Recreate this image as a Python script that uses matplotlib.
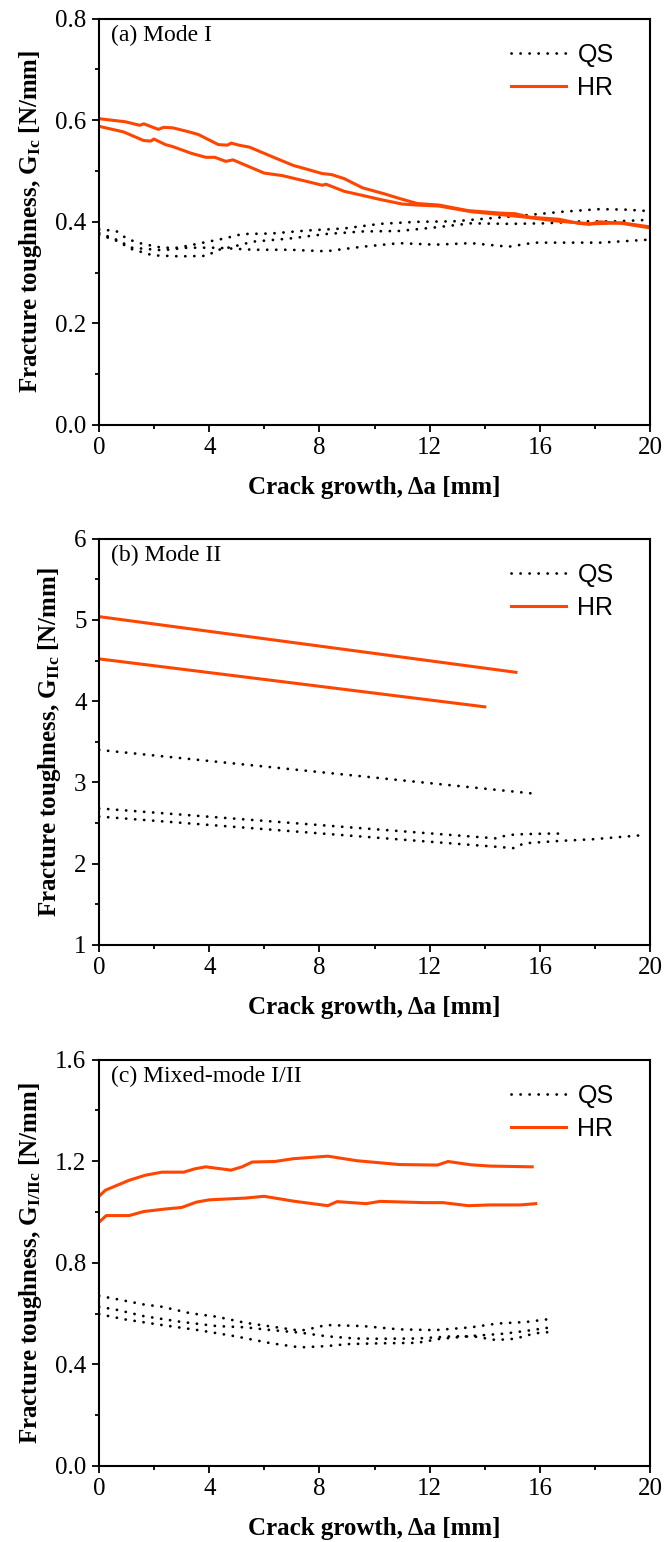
import numpy as np
import matplotlib
matplotlib.use('Agg')
import matplotlib.pyplot as plt
from matplotlib.ticker import MultipleLocator

plt.rcParams['font.family'] = 'Liberation Serif'
plt.rcParams['mathtext.fontset'] = 'custom'
plt.rcParams['mathtext.rm'] = 'Liberation Serif:bold'
plt.rcParams['mathtext.it'] = 'Liberation Serif:bold'
plt.rcParams['mathtext.bf'] = 'Liberation Serif:bold'

HR_COLOR = '#ff4500'

# ---- (a) Mode I ----
a_hr1_x = [0, 0.95, 1.48, 1.62, 2.15, 2.34, 2.68, 3.2, 3.6, 4.33, 4.66, 4.8, 5.07, 5.46, 6.38, 7.05,
           7.58, 8.1, 8.44, 8.9, 9.56, 10.36, 10.9, 11.55, 12.34, 13.4, 14.6, 15.1, 15.65, 16.7, 17.4,
           17.8, 18.17, 18.97, 20]
a_hr1_y = [0.603, 0.597, 0.59, 0.593, 0.582, 0.586, 0.585, 0.578, 0.572, 0.552, 0.551, 0.555, 0.551,
           0.547, 0.526, 0.511, 0.503, 0.495, 0.493, 0.485, 0.467, 0.455, 0.446, 0.436, 0.433, 0.422,
           0.417, 0.416, 0.409, 0.405, 0.397, 0.395, 0.4, 0.397, 0.388]
a_hr2_x = [0, 0.89, 1.62, 1.88, 1.99, 2.41, 2.68, 3.34, 3.87, 4.2, 4.6, 4.86, 5.99, 6.65, 7.58, 8.1,
           8.24, 8.9, 9.56, 10.2, 11.0, 11.55, 12.34, 13.5, 14.45, 15.5, 16.7, 17.9, 18.97, 20]
a_hr2_y = [0.588, 0.577, 0.56, 0.559, 0.563, 0.552, 0.548, 0.535, 0.527, 0.527, 0.519, 0.522, 0.496,
           0.491, 0.479, 0.472, 0.474, 0.46, 0.452, 0.444, 0.435, 0.433, 0.431, 0.42, 0.415, 0.409,
           0.401, 0.396, 0.398, 0.39]
a_qs1_x = [0, 0.62, 0.95, 1.2, 1.55, 2.28, 2.87, 3.87, 4.53, 5.2, 6.25, 7.58, 8.9, 10.2, 11.55, 12.87,
           14.2, 15.5, 16.85, 18.17, 19.1, 20]
a_qs1_y = [0.385, 0.382, 0.369, 0.363, 0.357, 0.349, 0.349, 0.36, 0.367, 0.376, 0.377, 0.383, 0.387,
           0.396, 0.4, 0.401, 0.407, 0.413, 0.42, 0.425, 0.424, 0.421]
a_qs2_x = [0, 0.62, 1.2, 1.95, 2.94, 3.93, 4.26, 4.93, 5.59, 6.9, 8.24, 9.56, 10.9, 12.2, 13.5, 14.86,
           16.2, 17.5, 18.8, 20]
a_qs2_y = [0.375, 0.363, 0.346, 0.334, 0.332, 0.333, 0.344, 0.352, 0.361, 0.367, 0.376, 0.381, 0.382,
           0.389, 0.397, 0.396, 0.397, 0.401, 0.401, 0.404]
a_qs3_x = [0, 0.62, 1.2, 2.28, 3.2, 4.26, 5.59, 6.9, 8.24, 9.56, 10.9, 12.2, 13.5, 14.86, 15.8, 16.85,
           18.2, 20]
a_qs3_y = [0.378, 0.365, 0.349, 0.344, 0.349, 0.349, 0.345, 0.345, 0.342, 0.351, 0.358, 0.355, 0.358,
           0.351, 0.359, 0.359, 0.359, 0.365]

# ---- (b) Mode II ----
b_hr1_x = [0, 15.13]
b_hr1_y = [5.04, 4.355]
b_hr2_x = [0, 14.0]
b_hr2_y = [4.52, 3.93]
b_qs1_x = [0, 15.85]
b_qs1_y = [3.40, 2.86]
b_qs2_x = [0, 14.46, 14.7, 15.1, 16.2, 16.9]
b_qs2_y = [2.68, 2.31, 2.34, 2.36, 2.37, 2.37]
b_qs3_x = [0, 15.1, 15.4, 16.7, 17.9, 19.7]
b_qs3_y = [2.58, 2.19, 2.25, 2.28, 2.30, 2.35]

# ---- (c) Mixed-mode I/II ----
c_hr1_x = [0, 0.23, 1.09, 1.68, 2.28, 3.07, 3.47, 3.87, 4.79, 5.19, 5.56, 6.38, 7.05, 8.3, 9.36, 10.9,
           12.28, 12.67, 13.5, 14.2, 15.72]
c_hr1_y = [1.062, 1.086, 1.125, 1.145, 1.157, 1.157, 1.17, 1.178, 1.165, 1.178, 1.197, 1.199, 1.21,
           1.22, 1.202, 1.187, 1.185, 1.199, 1.186, 1.181, 1.178]
c_hr2_x = [0, 0.26, 1.09, 1.62, 2.41, 3.0, 3.53, 4.0, 5.32, 5.99, 7.05, 8.3, 8.64, 9.7, 10.2, 11.8,
           12.48, 13.4, 14.2, 15.3, 15.85]
c_hr2_y = [0.96, 0.986, 0.986, 1.002, 1.012, 1.018, 1.039, 1.048, 1.055, 1.062, 1.043, 1.025, 1.041,
           1.033, 1.042, 1.037, 1.037, 1.025, 1.028, 1.028, 1.033]
c_qs1_x = [0, 0.69, 1.62, 2.28, 3.33, 4.26, 5.3, 6.25, 7.3, 7.58, 8.24, 9.56, 10.9, 12.2, 13.5, 14.46,
           15.5, 16.45]
c_qs1_y = [0.67, 0.656, 0.636, 0.627, 0.601, 0.588, 0.564, 0.549, 0.533, 0.538, 0.555, 0.551, 0.538,
           0.535, 0.546, 0.561, 0.567, 0.58]
c_qs2_x = [0, 0.69, 1.62, 2.94, 4.26, 5.3, 6.25, 7.3, 8.24, 9.3, 10.2, 11.55, 12.87, 13.66, 14.4, 15.1,
           15.8, 16.3]
c_qs2_y = [0.627, 0.614, 0.59, 0.568, 0.551, 0.546, 0.535, 0.525, 0.511, 0.502, 0.501, 0.502, 0.511,
           0.509, 0.496, 0.501, 0.522, 0.527]
c_qs3_x = [0, 0.95, 2.28, 3.6, 4.93, 6.25, 7.3, 8.24, 9.03, 10.2, 11.55, 12.34, 13.4, 14.7, 15.5, 16.4]
c_qs3_y = [0.598, 0.577, 0.555, 0.535, 0.511, 0.483, 0.467, 0.472, 0.48, 0.483, 0.485, 0.5, 0.511,
           0.521, 0.532, 0.546]

panels = [
    ('(a) Mode I', r'Fracture toughness, $\mathregular{G_{Ic}}$ [N/mm]', (0, 0.8), 0.2, 0.1, '%.1f',
     [(a_qs1_x, a_qs1_y), (a_qs2_x, a_qs2_y), (a_qs3_x, a_qs3_y)],
     [(a_hr1_x, a_hr1_y), (a_hr2_x, a_hr2_y)]),
    ('(b) Mode II', r'Fracture toughness, $\mathregular{G_{IIc}}$ [N/mm]', (1, 6), 1, 0.5, '%d',
     [(b_qs1_x, b_qs1_y), (b_qs2_x, b_qs2_y), (b_qs3_x, b_qs3_y)],
     [(b_hr1_x, b_hr1_y), (b_hr2_x, b_hr2_y)]),
    ('(c) Mixed-mode I/II', r'Fracture toughness, $\mathregular{G_{I/IIc}}$ [N/mm]', (0, 1.6), 0.4, 0.2, '%.1f',
     [(c_qs1_x, c_qs1_y), (c_qs2_x, c_qs2_y), (c_qs3_x, c_qs3_y)],
     [(c_hr1_x, c_hr1_y), (c_hr2_x, c_hr2_y)]),
]

fig = plt.figure(figsize=(6.65, 15.42), dpi=100)
bottoms = [0.7244, 0.3872, 0.0493]
for (title, ylab, ylim, major, minor, fmt, qs, hr), b in zip(panels, bottoms):
    ax = fig.add_axes([0.149, b, 0.8286, 0.2635])
    for i, (x, y) in enumerate(qs):
        ax.plot(x, y, color='black', lw=2.0, linestyle=(0, (0.05, 3.2)),
                dash_capstyle='round', label='QS' if i == 0 else None)
    for i, (x, y) in enumerate(hr):
        ax.plot(x, y, color=HR_COLOR, lw=2.2, label='HR' if i == 0 else None)
    ax.set_xlim(0, 20)
    ax.set_ylim(*ylim)
    ax.xaxis.set_major_locator(MultipleLocator(4))
    ax.xaxis.set_minor_locator(MultipleLocator(2))
    ax.yaxis.set_major_locator(MultipleLocator(major))
    ax.yaxis.set_minor_locator(MultipleLocator(minor))
    ax.yaxis.set_major_formatter(matplotlib.ticker.FormatStrFormatter(fmt))
    ax.tick_params(which='major', direction='out', length=5, width=1.3, labelsize=18, pad=4)
    ax.tick_params(which='minor', direction='out', length=3, width=1.3)
    ax.tick_params(top=False, right=False)
    for s in ax.spines.values():
        s.set_linewidth(1.5)
    ax.set_xlabel('Crack growth, Δa [mm]', fontsize=18, fontweight='bold', labelpad=12)
    ax.set_ylabel(ylab, fontsize=18, fontweight='bold', labelpad=8)
    ax.text(0.022, 0.985, title, transform=ax.transAxes, fontsize=17, va='top', ha='left')
    ax.legend(loc='upper right', bbox_to_anchor=(0.952, 0.965), borderaxespad=0,
              frameon=False, handlelength=2.2, handletextpad=0.45,
              prop={'family': 'Liberation Sans', 'size': 18}, labelspacing=0.35)

plt.savefig('out.png', dpi=100)
